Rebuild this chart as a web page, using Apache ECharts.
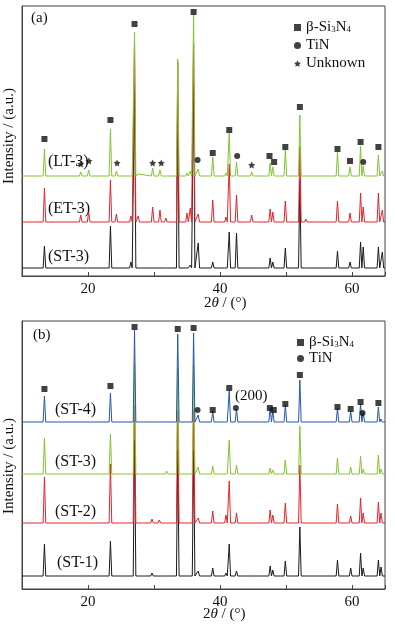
<!DOCTYPE html>
<html><head><meta charset="utf-8">
<script src="https://cdn.jsdelivr.net/npm/echarts@6/dist/echarts.min.js"></script>
<style>html,body{margin:0;padding:0;background:#fff}#c{width:395px;height:628px}</style>
</head><body><div id="c"></div>
<script>
// ---------- Panel (a) data ----------
const posA = [13.4,18.9,20.1,23.4,24.3,26.5,27.05,27.6,29.8,30.9,31.8,33.6,35.0,35.5,36.0,36.7,38.9,40.9,41.4,42.5,44.8,46.0,47.6,48.0,49.9,52.1,53.0,57.8,59.7,61.3,61.7,64.0,64.6];
const LT3  = [27,4,6,47,5,2,144,2,8,6,2,117,3,5,161,7,19,3,43,14,4,2,13,9,26,61,2,24,9,30,10,21,5];
const ET3  = [34,7,10,42,8,6,179,6,15,12,4,160,9,14,179,8,22,5,58,27,7,2,13,10,21,75,3,21,9,29,15,29,12];
const ST3a = [22,0,1,42,0,6,185,0,1,0,1,165,2,3,185,25,6,2,36,35,1,2,10,6,20,88,1,17,6,26,21,21,16];
const baseA = [100, 54, 8]; // LT-3, ET-3, ST-3 vertical offsets
const sqA  = [[13.4,137],[23.4,156],[27.05,252],[36.0,264],[38.9,123],[41.4,146],[47.5,120],[48.2,114],[49.9,129],[52.1,169],[57.8,127],[59.7,115],[61.3,134],[64.0,129]];
const ciA  = [[36.6,116],[42.6,120],[61.7,114]];
const stA  = [[18.9,112],[20.15,115],[24.4,113],[29.8,113],[31.1,113],[44.8,111]];

// ---------- Panel (b) data ----------
const posB = [13.4,19.8,23.4,25.8,27.05,28.2,29.7,30.8,31.9,33.6,36.0,36.7,38.9,40.9,41.4,42.5,44.8,47.6,48.0,49.9,52.1,57.8,59.8,61.3,61.7,64.0,64.4];
const ST4  = [26,0,29,1,92,1,2,1,2,88,89,7,11,2,31,13,1,14,11,17,42,14,11,18,10,15,3];
const ST3b = [36,0,40,2,111,2,2,2,3,106,109,7,8,2,34,9,1,6,4,14,48,16,7,18,5,19,5];
const ST2  = [46,2,59,1,118,1,4,3,1,113,113,5,12,8,42,10,2,13,8,20,58,19,7,25,10,21,10];
const ST1  = [32,1,35,1,136,1,3,1,1,126,126,5,8,3,32,5,1,10,6,15,49,16,8,23,8,16,9];
const baseB = [167, 115, 66, 13]; // ST-4, ST-3, ST-2, ST-1
const sqB  = [[13.4,200],[23.4,203],[27.05,262],[33.6,260],[36.0,261],[38.9,179],[41.4,201],[47.55,181],[48.15,179],[49.9,185],[52.1,214],[57.8,182],[59.8,180],[61.3,187],[64.0,186]];
const ciB  = [[36.6,179],[42.4,181],[61.6,176]];

const xTickLabels = [20, 40, 60];

function trace(pos, h, base) {
  const pts = [[10, base]];
  pos.forEach((p, i) => {
    if (h[i] > 0) pts.push([p - 0.2, base], [p, base + h[i]], [p + 0.2, base]);
  });
  pts.push([65, base]);
  return pts;
}

const FONT = 'Liberation Serif';
const GREEN = '#82c431', RED = '#e3242b', BLACK = '#1a1a1a', BLUE = '#2357b0';
const STAR = 'path://M0,-10 L2.9,-4 9.5,-3.1 4.7,1.5 5.9,8.1 0,5 -5.9,8.1 -4.7,1.5 -9.5,-3.1 -2.9,-4 Z';

function xAx(gi) {
  return {
    gridIndex: gi, type: 'value', min: 10, max: 65, interval: 10,
    axisLine: {show: true, lineStyle: {color: '#444', width: 1}},
    axisTick: {show: true, inside: true, length: 4, lineStyle: {color: '#444'}},
    splitLine: {show: false},
    axisLabel: {margin: 6, color: '#111', fontFamily: FONT, fontSize: 15,
      formatter: v => xTickLabels.indexOf(v) >= 0 ? String(v) : ''}
  };
}
function yAx(gi, max) {
  return {gridIndex: gi, type: 'value', min: 0, max: max,
    axisLine: {show: true, lineStyle: {color: '#444'}}, axisTick: {show: false},
    axisLabel: {show: false}, splitLine: {show: false}};
}
function line(name, data, color, gi) {
  return {name, type: 'line', xAxisIndex: gi, yAxisIndex: gi, data, showSymbol: false,
    lineStyle: {color, width: 1}, itemStyle: {color}, animation: false, silent: true};
}
function marks(name, data, symbol, size, gi) {
  return {name, type: 'scatter', xAxisIndex: gi, yAxisIndex: gi, data, symbol, symbolSize: size,
    itemStyle: {color: '#111'}, animation: false, z: 5};
}

const legendText = {
  color: '#111', fontFamily: FONT, fontSize: 15, lineHeight: 15,
  rich: {n: {fontFamily: FONT, fontSize: 15, color: '#111'},
         s: {fontFamily: FONT, fontSize: 9, color: '#111', padding: [5, 0, 0, 0]}}
};
const legendFmt = n => n === 'β-Si3N4' ? '{n|β-Si}{s|3}{n|N}{s|4}' : n;

const option = {
  backgroundColor: '#fff',
  animation: false,
  grid: [
    {left: 22, right: 10, top: 6, height: 270, show: true, borderColor: '#444', borderWidth: 1},
    {left: 22, right: 10, top: 321, height: 268, show: true, borderColor: '#444', borderWidth: 1}
  ],
  xAxis: [xAx(0), xAx(1)],
  yAxis: [yAx(0, 270), yAx(1, 268)],
  legend: [
    {data: ['β-Si3N4', 'TiN', 'Unknown'], orient: 'vertical', left: 289, top: 15,
     itemWidth: 7, itemHeight: 7, itemGap: 3, textStyle: legendText, formatter: legendFmt, selectedMode: false},
    {data: ['β-Si3N4', 'TiN'], orient: 'vertical', left: 292, top: 330,
     itemWidth: 7, itemHeight: 7, itemGap: 1, textStyle: legendText, formatter: legendFmt, selectedMode: false}
  ],
  series: [
    line('ST-3 (a)', trace(posA, ST3a, baseA[2]), BLACK, 0),
    line('ET-3', trace(posA, ET3, baseA[1]), RED, 0),
    line('LT-3', trace(posA, LT3, baseA[0]), GREEN, 0),
    marks('β-Si3N4', sqA, 'rect', 6, 0),
    marks('TiN', ciA, 'circle', 6, 0),
    marks('Unknown', stA, STAR, 7, 0),
    line('ST-1', trace(posB, ST1, baseB[3]), BLACK, 1),
    line('ST-2', trace(posB, ST2, baseB[2]), RED, 1),
    line('ST-3 (b)', trace(posB, ST3b, baseB[1]), GREEN, 1),
    line('ST-4', trace(posB, ST4, baseB[0]), BLUE, 1),
    marks('β-Si3N4', sqB, 'rect', 6, 1),
    marks('TiN', ciB, 'circle', 6, 1)
  ],
  graphic: [
    {type: 'text', left: 31, top: 11, style: {text: '(a)', font: '15px "Liberation Serif"', fill: '#111'}},
    {type: 'text', left: 48, top: 154, style: {text: '(LT-3)', font: '16px "Liberation Serif"', fill: '#111'}},
    {type: 'text', left: 48, top: 201, style: {text: '(ET-3)', font: '16px "Liberation Serif"', fill: '#111'}},
    {type: 'text', left: 48, top: 249, style: {text: '(ST-3)', font: '16px "Liberation Serif"', fill: '#111'}},
    {type: 'text', left: 33, top: 328, style: {text: '(b)', font: '15px "Liberation Serif"', fill: '#111'}},
    {type: 'text', left: 55, top: 402, style: {text: '(ST-4)', font: '16px "Liberation Serif"', fill: '#111'}},
    {type: 'text', left: 55, top: 454, style: {text: '(ST-3)', font: '16px "Liberation Serif"', fill: '#111'}},
    {type: 'text', left: 55, top: 504, style: {text: '(ST-2)', font: '16px "Liberation Serif"', fill: '#111'}},
    {type: 'text', left: 57, top: 555, style: {text: '(ST-1)', font: '16px "Liberation Serif"', fill: '#111'}},
    {type: 'text', left: 235, top: 389, style: {text: '(200)', font: '15px "Liberation Serif"', fill: '#111'}},
    {type: 'text', left: 204, top: 296, style: {text: '{a|2}{b|θ}{a| / (°)}', fill: '#111',
      rich: {a: {fontFamily: FONT, fontSize: 15, fill: '#111'}, b: {fontFamily: FONT, fontSize: 15, fontStyle: 'italic', fill: '#111'}}}},
    {type: 'text', left: 203, top: 607, style: {text: '{a|2}{b|θ}{a| / (°)}', fill: '#111',
      rich: {a: {fontFamily: FONT, fontSize: 15, fill: '#111'}, b: {fontFamily: FONT, fontSize: 15, fontStyle: 'italic', fill: '#111'}}}},
    {type: 'text', x: 9, y: 136, rotation: Math.PI / 2,
     style: {text: 'Intensity / (a.u.)', font: '15px "Liberation Serif"', fill: '#111', align: 'center', verticalAlign: 'middle'}},
    {type: 'text', x: 9, y: 466, rotation: Math.PI / 2,
     style: {text: 'Intensity / (a.u.)', font: '15px "Liberation Serif"', fill: '#111', align: 'center', verticalAlign: 'middle'}}
  ]
};
const chart = echarts.init(document.getElementById('c'), null, {renderer: 'canvas'});
chart.setOption(option);
</script></body></html>
